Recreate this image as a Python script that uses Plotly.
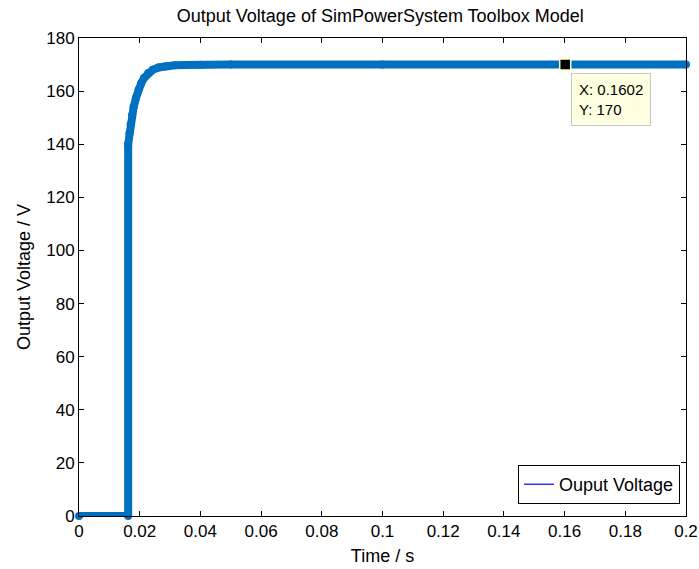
import plotly.graph_objects as go

# Simulated output voltage (time in s, voltage in V)
time_s = [0, 0.0162, 0.0162, 0.0166, 0.0170, 0.0175, 0.0180, 0.0188, 0.0196,
          0.0205, 0.0215, 0.0228, 0.0243, 0.0262, 0.0285, 0.0315, 0.035,
          0.040, 0.05, 0.1, 0.1602, 0.2]
voltage_v = [0, 0, 140, 144, 147.5, 151, 154, 157.5, 160.5,
             163, 165, 166.8, 168, 168.9, 169.4, 169.7, 169.85,
             169.95, 170, 170, 170, 170]

# Data cursor point
tip_x = 0.1602
tip_y = 170

x_ticks = [0, 0.02, 0.04, 0.06, 0.08, 0.1, 0.12, 0.14, 0.16, 0.18, 0.2]
x_labels = ["0", "0.02", "0.04", "0.06", "0.08", "0.1", "0.12", "0.14", "0.16", "0.18", "0.2"]
y_ticks = [0, 20, 40, 60, 80, 100, 120, 140, 160, 180]

FONT = "Liberation Sans, Arial, sans-serif"

fig = go.Figure()

fig.add_trace(go.Scatter(
    x=time_s, y=voltage_v, mode="lines+markers",
    line=dict(color="#0070C0", width=8),
    marker=dict(color="#0070C0", size=8),
    cliponaxis=False, showlegend=False, hoverinfo="skip",
))

# legend entry with a thin line
fig.add_trace(go.Scatter(
    x=[None], y=[None], mode="lines", name="Ouput Voltage",
    line=dict(color="#3333FF", width=1.5),
))

# data cursor marker
fig.add_trace(go.Scatter(
    x=[tip_x], y=[tip_y], mode="markers", showlegend=False,
    marker=dict(symbol="square", size=11, color="black",
                line=dict(color="#FFFFC8", width=1.5)),
    cliponaxis=False, hoverinfo="skip",
))

fig.add_annotation(
    x=tip_x, y=tip_y, xref="x", yref="y",
    text=f"X: {tip_x}<br>Y: {tip_y}",
    showarrow=False, xanchor="left", yanchor="top",
    xshift=6, yshift=-8, align="left",
    bgcolor="#FFFFE1", bordercolor="#C8C8C8", borderwidth=1, borderpad=7,
    font=dict(family=FONT, size=15, color="black"),
)

axis_common = dict(
    showgrid=False, zeroline=False, showline=True, linecolor="black",
    linewidth=1, mirror="ticks", ticks="inside", ticklen=5,
    tickcolor="black", layer="above traces", automargin=False,
    tickfont=dict(family=FONT, size=17, color="black"),
)

fig.update_layout(
    width=699, height=569,
    margin=dict(l=79, r=13, t=38, b=53),
    paper_bgcolor="white", plot_bgcolor="white",
    title=dict(text="Output Voltage of SimPowerSystem Toolbox Model",
               x=0.544, xanchor="center", y=0.972, yanchor="middle",
               font=dict(family=FONT, size=18, color="black")),
    xaxis=dict(range=[0, 0.2], tickvals=x_ticks, ticktext=x_labels,
               title=dict(text="Time / s", standoff=8,
                          font=dict(family=FONT, size=18, color="black")),
               **axis_common),
    yaxis=dict(range=[0, 180], tickvals=y_ticks,
               title=dict(text="Output Voltage / V", standoff=10,
                          font=dict(family=FONT, size=18, color="black")),
               **axis_common),
    legend=dict(x=0.99, y=0.025, xanchor="right", yanchor="bottom",
                bgcolor="white", bordercolor="black", borderwidth=1,
                entrywidth=190, entrywidthmode="pixels",
                font=dict(family=FONT, size=18, color="black")),
)

fig.write_html("out.html")
